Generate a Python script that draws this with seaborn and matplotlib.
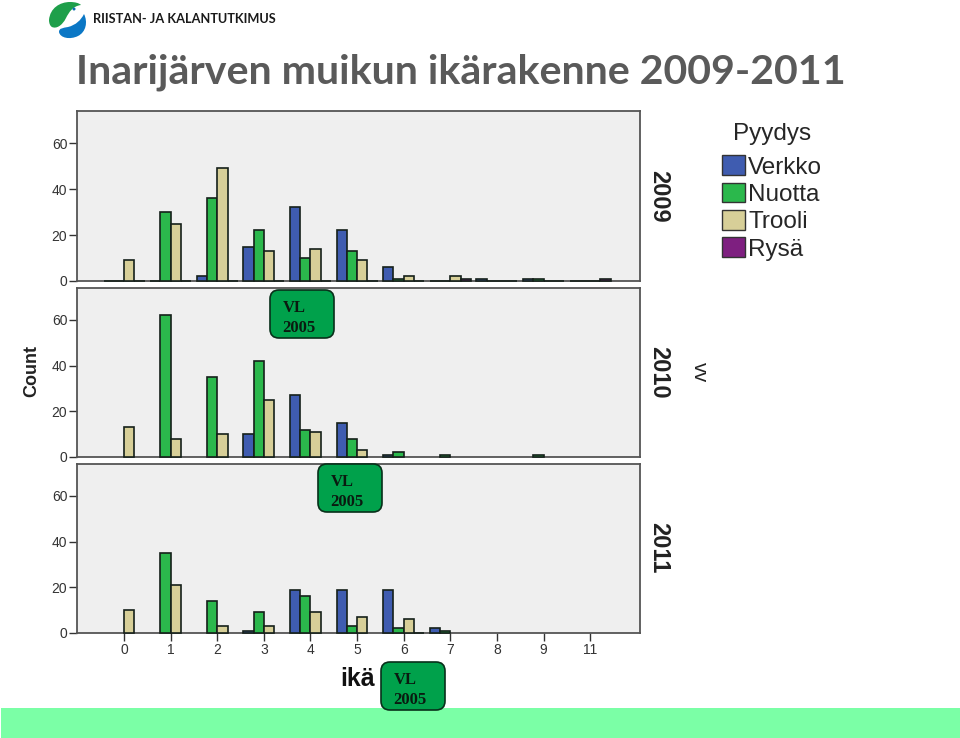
import numpy as np
import pandas as pd

import matplotlib
matplotlib.use('Agg')
import matplotlib.pyplot as plt
from matplotlib.patches import Circle, FancyBboxPatch, Patch, PathPatch
from matplotlib.path import Path
import seaborn as sns

ages = ['0', '1', '2', '3', '4', '5', '6', '7', '8', '9', '11']
gears = ['Verkko', 'Nuotta', 'Trooli', 'Rysä']
years = ['2009', '2010', '2011']
colors = ['#3F5CB0', '#2BB84C', '#D7CF98', '#7E1F80']

verkko_2009 = [0, 0, 2, 15, 32, 22, 6, 0, 1, 1, 0]
nuotta_2009 = [0, 30, 36, 22, 10, 13, 1, 0, 0, 1, 0]
trooli_2009 = [9, 25, 49, 13, 14, 9, 2, 2, 0, 0, 0]
rysa_2009 = [0, 0, 0, 0, 0, 0, 0, 1, 0, 0, 1]

verkko_2010 = [np.nan, np.nan, np.nan, 10, 27, 15, 1, np.nan, np.nan, np.nan, np.nan]
nuotta_2010 = [np.nan, 62, 35, 42, 12, 8, 2, 1, np.nan, 1, np.nan]
trooli_2010 = [13, 8, 10, 25, 11, 3, np.nan, np.nan, np.nan, np.nan, np.nan]
rysa_2010 = [np.nan] * 11

verkko_2011 = [np.nan, np.nan, np.nan, 1, 19, 19, 19, 2, np.nan, np.nan, np.nan]
nuotta_2011 = [np.nan, 35, 14, 9, 16, 3, 2, 1, np.nan, np.nan, np.nan]
trooli_2011 = [10, 21, 3, 3, 9, 7, 6, np.nan, np.nan, np.nan, np.nan]
rysa_2011 = [np.nan, np.nan, np.nan, np.nan, np.nan, np.nan, 0, np.nan, np.nan, np.nan, np.nan]

counts = {
    '2009': [verkko_2009, nuotta_2009, trooli_2009, rysa_2009],
    '2010': [verkko_2010, nuotta_2010, trooli_2010, rysa_2010],
    '2011': [verkko_2011, nuotta_2011, trooli_2011, rysa_2011],
}

W, H = 960, 738


def to_long(year):
    rows = []
    for gear, values in zip(gears, counts[year]):
        rows.append(pd.DataFrame({'ika': ages, 'Pyydys': gear, 'Count': values}))
    return pd.concat(rows, ignore_index=True)


def add_axes_px(fig, left, top, right, bottom):
    return fig.add_axes([left / W, 1 - bottom / H, (right - left) / W, (bottom - top) / H])


def vl_box(ax, x, y):
    ax.add_patch(FancyBboxPatch((x + 6, y + 6), 52, 36, boxstyle='round,pad=6,rounding_size=9',
                                fc='#00A14B', ec='#08301A', lw=1.2))
    ax.text(x + 13, y + 18, 'VL', family='Liberation Serif', weight='bold', fontsize=12,
            color='#0A1A10', va='center')
    ax.text(x + 12, y + 38, '2005', family='Liberation Serif', weight='bold', fontsize=12,
            color='#0A1A10', va='center')


sns.set_theme(style='white')
plt.rcParams['font.family'] = ['Liberation Sans', 'DejaVu Sans']

fig = plt.figure(figsize=(W / 100, H / 100), dpi=100, facecolor='white')

panels = [(111, 281), (288, 457), (464, 633)]
for year, (top, bottom) in zip(years, panels):
    ax = add_axes_px(fig, 77, top, 640, bottom)
    sns.barplot(data=to_long(year), x='ika', y='Count', hue='Pyydys', order=ages, hue_order=gears,
                palette=colors, width=0.88, saturation=1, edgecolor='#15201a', linewidth=1.2,
                legend=False, errorbar=None, ax=ax)
    for bar in ax.patches:
        bar.set_zorder(3)  # zero height bars show as dashes on top of the baseline
        bar.set_clip_on(False)
    ax.set_facecolor('#EFEFEF')
    ax.set_xlim(-1.01, 11.07)
    ax.set_ylim(0, 74)
    ax.set_yticks([0, 20, 40, 60])
    ax.set_xlabel('')
    ax.set_ylabel('')
    ax.tick_params(axis='y', length=6, width=1, color='#333333', labelsize=10, labelcolor='#333333', pad=1, left=True)
    if year == '2011':
        ax.tick_params(axis='x', length=6, width=1, color='#333333', labelsize=10, labelcolor='#333333', pad=1, bottom=True)
    else:
        ax.tick_params(axis='x', bottom=False, labelbottom=False)
    for spine in ax.spines.values():
        spine.set_color('#555555')
        spine.set_linewidth(1.3)

# page overlay in pixel coordinates: header, footer, side labels
page = fig.add_axes([0, 0, 1, 1], zorder=5)
page.set_xlim(0, W)
page.set_ylim(H, 0)
page.axis('off')

page.axhspan(708, 738, xmin=1 / W, color='#7BFFA6', lw=0, zorder=0)

page.text(76, 83.5, 'Inarijärven muikun ikärakenne 2009-2011', family='Lato', weight='bold',
          fontsize=29.6, color='#5A5A5A', va='baseline')
page.text(93, 19, 'RIISTAN- JA KALANTUTKIMUS', family='Lato', weight='bold', fontsize=9.15,
          color='#1A1A1A', va='center')

# logo
C4 = Path.CURVE4
green = Path([(49, 20), (50, 8), (60, 2), (70, 2), (75, 2), (79, 3), (81, 5), (73, 6), (69, 12), (66, 18),
              (62, 26), (56, 29), (52, 27), (50, 26), (49, 23), (49, 20)],
             [Path.MOVETO] + [C4] * 15)
blue = Path([(84, 14), (88, 22), (86, 32), (78, 36), (70, 40), (60, 38), (59, 32), (59, 28), (63, 28), (68, 27),
             (76, 25), (81, 20), (84, 14)],
            [Path.MOVETO] + [C4] * 12)
page.add_patch(PathPatch(green, fc='#1E9F4A', ec='none'))
page.add_patch(PathPatch(blue, fc='#0B77C5', ec='none'))
page.add_patch(Circle((74, 9), 1.5, fc='#0B6FB0', ec='none'))

page.text(32, 371, 'Count', rotation=90, weight='bold', fontsize=13, color='#222222', ha='center', va='center')
page.text(358, 679, 'ikä', weight='bold', fontsize=18, color='#111111', ha='center', va='center')
page.text(699, 372, 'vv', rotation=-90, fontsize=14.5, color='#222222', ha='center', va='center')
for year, y in zip(years, [196, 372, 548]):
    page.text(659, y, year, rotation=-90, weight='bold', fontsize=17, color='#222222', ha='center', va='center')

vl_box(page, 270, 290)
vl_box(page, 318, 464)
vl_box(page, 381, 662)

handles = [Patch(fc=c, ec='#333333', lw=1, label=g) for c, g in zip(colors, gears)]
leg = page.legend(handles=handles, title='Pyydys', loc='upper left', bbox_to_anchor=(722 / W, 1 - 123 / H),
                  frameon=False, fontsize=17.5, title_fontsize=17.5, handlelength=0.93, handleheight=0.86,
                  handletextpad=0.15, labelspacing=0.17, borderpad=0, borderaxespad=0)
leg._legend_box.sep = 7.5  # more room under the title

plt.savefig('out.png', dpi=100)
